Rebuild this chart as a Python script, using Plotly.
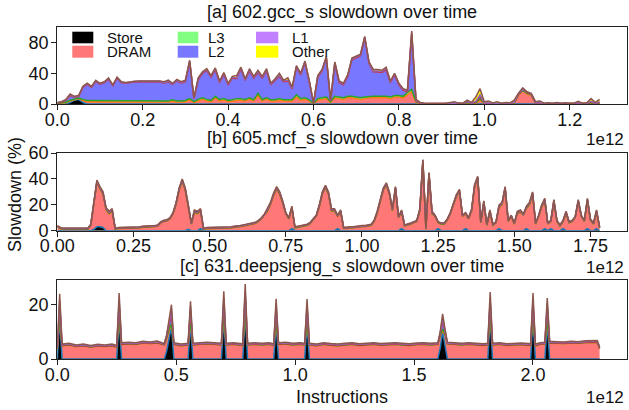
import plotly.graph_objects as go

# ---------------- data ----------------
LAYERS = ["Store", "DRAM", "L3", "L2", "L1", "Other"]

# panel [a] 602.gcc_s  (x in units of 1e12 instructions, sampled every 1e10)
x_a = [round(i * 0.01, 2) for i in range(128)]
a_store = [0, 0, 0, 2, 5, 6, 2, 0, 0, 0,
           0, 0, 0, 0, 0, 0, 0, 0, 0, 0,
           0, 0, 0, 0, 0, 0, 0, 0, 0, 0,
           0, 0, 0, 0, 0, 0, 0, 0, 0, 0,
           0, 0, 0, 0, 0, 0, 0, 0, 0, 0,
           0, 0, 0, 0, 0, 0, 0, 0, 0, 0,
           0, 0, 0, 0, 0, 0, 0, 0, 0, 0,
           0, 0, 0, 0, 0, 0, 0, 0, 0, 0,
           0, 0, 0, 0, 0, 0, 0, 0, 0, 0,
           0, 0, 0, 0, 0, 0, 0, 0, 0, 0,
           0, 0, 0, 0, 0, 0, 0, 0, 0, 0,
           0, 0, 0, 0, 0, 0, 0, 0, 0, 0,
           0, 0, 0, 0, 0, 0, 0, 0]
a_dram = [0.5, 0.8, 1.5, 2, 1, 1, 2.5, 3, 3, 3,
          2.5, 2.5, 3, 2.5, 3, 2.5, 2.5, 2.5, 2.5, 2.5,
          2.5, 2.5, 2.5, 2.5, 2.5, 2.5, 2.5, 3.5, 2.5, 2.5,
          3, 5, 2, 4, 6, 4, 3, 8, 4, 5,
          3, 4, 5, 5, 4, 6, 4, 11, 4, 6,
          4, 4, 5, 4, 4, 4, 9, 5, 6, 4,
          0.3, 5, 6, 7, 2, 8, 7, 6, 8, 8,
          7, 6, 7, 8, 8, 8, 8, 8, 7, 9,
          9, 8, 12, 16, 2, 0.5, 0.3, 0.2, 0.4, 0.2,
          0.2, 0.3, 0.5, 0.6, 0.3, 0.3, 1, 0.5, 1, 5,
          0.5, 0.8, 0.3, 0.5, 0.2, 0.4, 0.3, 1, 11, 17,
          13, 11, 0.8, 1, 0.2, 0.3, 0.2, 0.4, 0.2, 0.3,
          0.2, 0.2, 0.6, 0.2, 0.3, 1, 0.3, 1]
a_l3 = [0.3, 0.4, 0.8, 1, 0.8, 0.8, 1.5, 1.5, 1.5, 1.5,
        1.5, 1.5, 1.5, 1.5, 1.5, 1.5, 1.5, 1.5, 1.5, 1.5,
        1.5, 1.5, 1.5, 1.5, 1.5, 1.5, 1.5, 2, 1.5, 1.5,
        1.5, 2, 1, 2, 2, 2, 1.5, 2, 1.5, 2,
        1.5, 1.5, 2, 2, 1.5, 2, 1.5, 3, 1.5, 2,
        1.5, 1.5, 2, 1.5, 1.5, 1.5, 3, 2, 2, 1.5,
        0.2, 2, 2, 2, 1, 2, 2, 2, 2, 2,
        2, 2, 2, 2, 2, 2, 2, 2, 2, 2,
        2, 2, 3, 3, 1, 0.3, 0.1, 0.1, 0.2, 0.1,
        0.1, 0.1, 0.2, 0.3, 0.1, 0.1, 0.5, 0.2, 0.5, 2,
        0.3, 0.4, 0.1, 0.3, 0.1, 0.2, 0.1, 0.5, 1, 1,
        1, 1, 0.3, 0.3, 0.1, 0.1, 0.1, 0.2, 0.1, 0.1,
        0.1, 0.1, 0.3, 0.1, 0.1, 0.5, 0.1, 0.4]
a_l2 = [0.5, 1, 2.5, 6, 2, 2.2, 16, 21.5, 17.5, 25,
        22, 24, 27.5, 20, 29, 24, 23, 24, 25, 25,
        25, 25, 25, 25, 25, 23, 25, 20, 26, 23.5,
        24.5, 48, 4, 26, 32, 38, 30.5, 35, 22.5, 32,
        20.5, 28.5, 26, 39, 25.5, 35, 28.5, 27, 28.5, 35,
        19.5, 25.5, 29, 23.5, 24.5, 14.5, 36, 31, 46, 23.5,
        0.3, 28, 35, 51, 1, 43, 19, 17, 26, 48,
        51, 55, 77, 43, 32, 32, 31, 35, 19, 27,
        14, 8, 1, 72, 1, 0.3, 0.2, 0.2, 0.2, 0.2,
        0.2, 0.2, 0.2, 0.2, 0.2, 0.2, 1, 0.2, 1, 3,
        0.2, 0.2, 0.2, 0.2, 0.2, 0.2, 0.2, 0.5, 0.5, 1,
        1, 0.5, 0.2, 0.2, 0.2, 0.2, 0.2, 0.2, 0.2, 0.2,
        0.2, 0.2, 0.2, 0.2, 0.2, 1, 0.2, 0.5]
a_l1 = [0.3, 0.3, 0.5, 1, 0.5, 0.5, 0.5, 0.5, 0.5, 0.5,
        0.5, 0.5, 0.5, 0.5, 0.5, 0.5, 0.5, 0.5, 0.5, 0.5,
        0.5, 0.5, 0.5, 0.5, 0.5, 0.5, 0.5, 0.5, 0.5, 0.5,
        1, 1, 0.5, 1, 1, 1, 1, 1, 1, 1,
        1, 1, 1, 1, 1, 1, 1, 1, 1, 1,
        1, 1, 1, 1, 1, 1, 1, 1, 1, 1,
        0.1, 1, 1, 1, 0.5, 1, 1, 1, 1, 1,
        1, 1, 1, 1, 1, 1, 1, 2, 1, 1,
        1, 1, 1, 2, 0.5, 0.3, 0.2, 0.2, 0.2, 0.2,
        0.2, 0.2, 0.2, 0.2, 0.2, 0.2, 0.8, 0.2, 1, 2,
        0.2, 0.2, 0.2, 0.2, 0.2, 0.2, 0.2, 0.5, 0.5, 0.5,
        0.5, 0.5, 0.2, 0.2, 0.2, 0.2, 0.2, 0.2, 0.2, 0.2,
        0.2, 0.2, 0.5, 0.2, 0.2, 1, 0.2, 1]
a_other = [0.4, 0.5, 0.7, 1, 0.7, 0.5, 0.5, 0.5, 0.5, 1,
           0.5, 0.5, 1.5, 0.5, 1, 0.5, 0.5, 0.5, 0.5, 0.5,
           0.5, 0.5, 0.5, 0.5, 0.5, 1.5, 1.5, 1, 1.5, 1,
           1, 1, 0.5, 1, 1, 1, 1, 1, 1, 1,
           1, 1, 3, 1, 1, 2, 1, 2, 1, 2,
           1, 1, 3, 1, 3, 1, 1, 1, 1, 1,
           0.1, 1, 1, 1, 0.5, 1, 1, 1, 1, 1,
           1, 1, 1, 1, 2, 2, 2, 1, 1, 1,
           1, 1, 1, 2, 1.5, 0.6, 0.2, 0.1, 0.5, 0.1,
           0.1, 0.2, 0.9, 1.7, 0.2, 0.2, 1.7, 0.9, 5.5, 8,
           1.8, 2.4, 0.7, 1.8, 0.3, 1.0, 0.7, 2.5, 1, 1.5,
           0.5, 1, 1.5, 2.3, 0.3, 0.7, 0.3, 1.0, 0.3, 0.7,
           0.3, 0.3, 1.9, 0.3, 0.7, 3.5, 1.2, 3.1]

# panel [b] 605.mcf_s
x_b = [round(i * 0.01, 2) for i in range(179)]
b_store = [0, 0, 0, 0, 0, 0, 0, 0, 0, 0,
           0, 0, 1, 3, 3, 2.5, 0, 0, 0, 0,
           0, 0, 0, 0, 0, 0, 0, 0, 0, 0,
           0, 0, 0, 0, 0, 0, 0, 0, 0, 0,
           0, 0, 0, 1, 0, 0, 0, 1.5, 0, 0,
           0, 0, 0, 0, 0, 0, 0, 0, 0, 0,
           0, 0, 0, 0, 0, 0, 0, 0, 0, 0,
           0, 0, 0, 0, 0, 0, 0, 1.5, 0, 0,
           0, 0, 0, 0, 0, 0, 0, 0, 0, 0,
           0, 0, 1.5, 0, 0, 0, 0, 0, 0, 0,
           0, 0, 0, 0, 0, 0, 0, 0, 0, 0,
           0, 0, 0, 1.5, 0, 0, 0, 0, 0, 0,
           0, 0, 0, 0, 0, 1.5, 0, 0, 0, 0,
           0, 0, 0, 0, 1.5, 0, 0, 0, 0, 0,
           0, 0, 0, 0, 0, 1.5, 0, 0, 0, 0,
           0, 0, 0, 0, 1.5, 0, 0, 0, 0, 0,
           1.5, 0, 1.5, 0, 0, 0, 1.5, 0, 0, 0,
           0, 0, 0, 0, 1.5, 0, 0, 1.5, 0]
b_dram = [3, 1.5, 1, 1, 1, 1, 1, 1, 1, 1,
          1, 4, 19, 34, 29, 25.5, 16, 13, 15, 1,
          1.5, 1.5, 1.5, 2, 2, 2, 2, 2, 2.5, 2.5,
          2.5, 3, 3, 3.5, 6, 7, 7.5, 9, 13, 20,
          31, 38, 31, 17, 5, 14, 13, 13.5, 1, 1.5,
          1.5, 1.5, 1.5, 2, 2, 2, 2, 2, 2.5, 2.5,
          3, 3.5, 4, 4, 5, 5.5, 7, 9, 12, 15,
          20, 27, 32, 28, 21, 13, 9, 15.5, 2, 2.5,
          3, 3.5, 4, 5.5, 8, 11, 18, 28, 33, 28,
          15, 15, 9.5, 14, 1.5, 2, 2, 2, 2.5, 2.5,
          3, 3, 3.5, 4, 7, 13, 22, 31, 35, 28,
          15, 32, 10, 12.5, 3.5, 4, 5, 6, 7, 15,
          53, 1, 43, 13, 11, 4.5, 5, 5, 8, 13,
          20, 26, 30, 11, 11.5, 9, 15, 34, 40, 6,
          21, 4, 14, 4, 6, 16.5, 20, 32, 7, 11,
          5, 13, 14, 12, 15.5, 20, 28, 5, 11, 18,
          21.5, 5, 5.5, 22, 7, 3.5, 5.5, 13, 6, 7,
          10, 22, 11, 7, 21.5, 8, 5, 12.5, 2]
b_l3 = [0.2, 0.2, 0.2, 0.2, 0.2, 0.2, 0.2, 0.2, 0.2, 0.2,
        0.2, 0.2, 0.4, 0.4, 0.4, 0.4, 0.4, 0.4, 0.4, 0.2,
        0.2, 0.2, 0.2, 0.2, 0.2, 0.2, 0.2, 0.2, 0.2, 0.2,
        0.2, 0.2, 0.2, 0.2, 0.2, 0.2, 0.2, 0.2, 0.2, 0.4,
        0.4, 0.4, 0.4, 0.4, 0.2, 0.4, 0.4, 0.4, 0.2, 0.2,
        0.2, 0.2, 0.2, 0.2, 0.2, 0.2, 0.2, 0.2, 0.2, 0.2,
        0.2, 0.2, 0.2, 0.2, 0.2, 0.2, 0.2, 0.2, 0.2, 0.4,
        0.4, 0.4, 0.4, 0.4, 0.4, 0.2, 0.2, 0.4, 0.2, 0.2,
        0.2, 0.2, 0.2, 0.2, 0.2, 0.2, 0.4, 0.4, 0.4, 0.4,
        0.4, 0.4, 0.2, 0.4, 0.2, 0.2, 0.2, 0.2, 0.2, 0.2,
        0.2, 0.2, 0.2, 0.2, 0.2, 0.4, 0.4, 0.4, 0.4, 0.4,
        0.4, 0.4, 0.2, 0.4, 0.2, 0.2, 0.2, 0.2, 0.2, 0.4,
        0.4, 0.2, 0.4, 0.4, 0.2, 0.2, 0.2, 0.2, 0.2, 0.2,
        0.4, 0.4, 0.4, 0.2, 0.2, 0.2, 0.4, 0.4, 0.4, 0.2,
        0.4, 0.2, 0.4, 0.2, 0.2, 0.4, 0.4, 0.4, 0.2, 0.2,
        0.2, 0.4, 0.4, 0.2, 0.4, 0.4, 0.4, 0.2, 0.2, 0.4,
        0.4, 0.2, 0.2, 0.4, 0.2, 0.2, 0.2, 0.4, 0.2, 0.2,
        0.2, 0.4, 0.2, 0.2, 0.4, 0.2, 0.2, 0.4, 0.2]
b_l2 = [0.3, 0.3, 0.3, 0.3, 0.3, 0.3, 0.3, 0.3, 0.3, 0.3,
        0.3, 0.3, 0.6, 0.6, 0.6, 0.6, 0.6, 0.6, 0.6, 0.3,
        0.3, 0.3, 0.3, 0.3, 0.3, 0.3, 0.3, 0.3, 0.3, 0.3,
        0.3, 0.3, 0.3, 0.3, 0.3, 0.3, 0.3, 0.3, 0.3, 0.6,
        0.6, 0.6, 0.6, 0.6, 0.3, 0.6, 0.6, 0.6, 0.3, 0.3,
        0.3, 0.3, 0.3, 0.3, 0.3, 0.3, 0.3, 0.3, 0.3, 0.3,
        0.3, 0.3, 0.3, 0.3, 0.3, 0.3, 0.3, 0.3, 0.3, 0.6,
        0.6, 0.6, 0.6, 0.6, 0.6, 0.3, 0.3, 0.6, 0.3, 0.3,
        0.3, 0.3, 0.3, 0.3, 0.3, 0.3, 0.6, 0.6, 0.6, 0.6,
        0.6, 0.6, 0.3, 0.6, 0.3, 0.3, 0.3, 0.3, 0.3, 0.3,
        0.3, 0.3, 0.3, 0.3, 0.3, 0.6, 0.6, 0.6, 0.6, 0.6,
        0.6, 0.6, 0.3, 0.6, 0.3, 0.3, 0.3, 0.3, 0.3, 0.6,
        0.6, 0.3, 0.6, 0.6, 0.3, 0.3, 0.3, 0.3, 0.3, 0.3,
        0.6, 0.6, 0.6, 0.3, 0.3, 0.3, 0.6, 0.6, 0.6, 0.3,
        0.6, 0.3, 0.6, 0.3, 0.3, 0.6, 0.6, 0.6, 0.3, 0.3,
        0.3, 0.6, 0.6, 0.3, 0.6, 0.6, 0.6, 0.3, 0.3, 0.6,
        0.6, 0.3, 0.3, 0.6, 0.3, 0.3, 0.3, 0.6, 0.3, 0.3,
        0.3, 0.6, 0.3, 0.3, 0.6, 0.3, 0.3, 0.6, 0.3]
b_l1 = [0.2, 0.2, 0.2, 0.2, 0.2, 0.2, 0.2, 0.2, 0.2, 0.2,
        0.2, 0.2, 0.4, 0.4, 0.4, 0.4, 0.4, 0.4, 0.4, 0.2,
        0.2, 0.2, 0.2, 0.2, 0.2, 0.2, 0.2, 0.2, 0.2, 0.2,
        0.2, 0.2, 0.2, 0.2, 0.2, 0.2, 0.2, 0.2, 0.2, 0.4,
        0.4, 0.4, 0.4, 0.4, 0.2, 0.4, 0.4, 0.4, 0.2, 0.2,
        0.2, 0.2, 0.2, 0.2, 0.2, 0.2, 0.2, 0.2, 0.2, 0.2,
        0.2, 0.2, 0.2, 0.2, 0.2, 0.2, 0.2, 0.2, 0.2, 0.4,
        0.4, 0.4, 0.4, 0.4, 0.4, 0.2, 0.2, 0.4, 0.2, 0.2,
        0.2, 0.2, 0.2, 0.2, 0.2, 0.2, 0.4, 0.4, 0.4, 0.4,
        0.4, 0.4, 0.2, 0.4, 0.2, 0.2, 0.2, 0.2, 0.2, 0.2,
        0.2, 0.2, 0.2, 0.2, 0.2, 0.4, 0.4, 0.4, 0.4, 0.4,
        0.4, 0.4, 0.2, 0.4, 0.2, 0.2, 0.2, 0.2, 0.2, 0.4,
        0.4, 0.2, 0.4, 0.4, 0.2, 0.2, 0.2, 0.2, 0.2, 0.2,
        0.4, 0.4, 0.4, 0.2, 0.2, 0.2, 0.4, 0.4, 0.4, 0.2,
        0.4, 0.2, 0.4, 0.2, 0.2, 0.4, 0.4, 0.4, 0.2, 0.2,
        0.2, 0.4, 0.4, 0.2, 0.4, 0.4, 0.4, 0.2, 0.2, 0.4,
        0.4, 0.2, 0.2, 0.4, 0.2, 0.2, 0.2, 0.4, 0.2, 0.2,
        0.2, 0.4, 0.2, 0.2, 0.4, 0.2, 0.2, 0.4, 0.2]
b_other = [0.3, 0.3, 0.3, 0.3, 0.3, 0.3, 0.3, 0.3, 0.3, 0.3,
           0.3, 0.3, 0.6, 0.6, 0.6, 0.6, 0.6, 0.6, 0.6, 0.3,
           0.3, 0.3, 0.3, 0.3, 0.3, 0.3, 0.3, 0.3, 0.3, 0.3,
           0.3, 0.3, 0.3, 0.3, 0.3, 0.3, 0.3, 0.3, 0.3, 0.6,
           0.6, 0.6, 0.6, 0.6, 0.3, 0.6, 0.6, 0.6, 0.3, 0.3,
           0.3, 0.3, 0.3, 0.3, 0.3, 0.3, 0.3, 0.3, 0.3, 0.3,
           0.3, 0.3, 0.3, 0.3, 0.3, 0.3, 0.3, 0.3, 0.3, 0.6,
           0.6, 0.6, 0.6, 0.6, 0.6, 0.3, 0.3, 0.6, 0.3, 0.3,
           0.3, 0.3, 0.3, 0.3, 0.3, 0.3, 0.6, 0.6, 0.6, 0.6,
           0.6, 0.6, 0.3, 0.6, 0.3, 0.3, 0.3, 0.3, 0.3, 0.3,
           0.3, 0.3, 0.3, 0.3, 0.3, 0.6, 0.6, 0.6, 0.6, 0.6,
           0.6, 0.6, 0.3, 0.6, 0.3, 0.3, 0.3, 0.3, 0.3, 0.6,
           0.6, 0.3, 0.6, 0.6, 0.3, 0.3, 0.3, 0.3, 0.3, 0.3,
           0.6, 0.6, 0.6, 0.3, 0.3, 0.3, 0.6, 0.6, 0.6, 0.3,
           0.6, 0.3, 0.6, 0.3, 0.3, 0.6, 0.6, 0.6, 0.3, 0.3,
           0.3, 0.6, 0.6, 0.3, 0.6, 0.6, 0.6, 0.3, 0.3, 0.6,
           0.6, 0.3, 0.3, 0.6, 0.3, 0.3, 0.3, 0.6, 0.3, 0.3,
           0.3, 0.6, 0.3, 0.3, 0.6, 0.3, 0.3, 0.6, 0.3]

# panel [c] 631.deepsjeng_s
x_c = [0.00, 0.01, 0.02, 0.05, 0.08, 0.11, 0.14, 0.17, 0.20, 0.23,
       0.25, 0.26, 0.27, 0.30, 0.33, 0.36, 0.39, 0.42, 0.44, 0.45,
       0.46, 0.47, 0.48, 0.49, 0.52, 0.55, 0.56, 0.57, 0.60, 0.63,
       0.66, 0.69, 0.70, 0.71, 0.74, 0.78, 0.79, 0.80, 0.83, 0.86,
       0.89, 0.91, 0.92, 0.93, 0.96, 0.99, 1.02, 1.04, 1.05, 1.06,
       1.09, 1.12, 1.15, 1.18, 1.21, 1.24, 1.27, 1.30, 1.33, 1.36,
       1.39, 1.42, 1.45, 1.48, 1.51, 1.54, 1.57, 1.60, 1.61, 1.62,
       1.63, 1.64, 1.67, 1.70, 1.73, 1.76, 1.79, 1.81, 1.82, 1.83,
       1.86, 1.89, 1.92, 1.95, 1.98, 1.99, 2.00, 2.01, 2.03, 2.05,
       2.06, 2.07, 2.10, 2.13, 2.16, 2.19, 2.22, 2.25, 2.27, 2.28]
c_store = [0, 15, 0, 0, 0, 0, 0, 0, 0, 0,
           0, 15, 0, 0, 0, 0, 0, 0, 0, 0,
           3, 8, 12, 0, 0, 0, 13, 0, 0, 0,
           0, 0, 15, 0, 0, 0, 17, 0, 0, 0,
           0, 0, 13, 0, 0, 0, 0, 0, 13, 0,
           0, 0, 0, 0, 0, 0, 0, 0, 0, 0,
           0, 0, 0, 0, 0, 0, 0, 0, 4, 10,
           5, 0, 0, 0, 0, 0, 0, 0, 15, 0,
           0, 0, 0, 0, 0, 0, 15, 0, 0, 0,
           13, 0, 0, 0, 0, 0, 0, 0, 0, 0]
c_dram = [3.8, 0.5, 4.8, 5.1, 4.5, 4.8, 4.3, 4.7, 4.5, 4.8,
          4.3, 0.5, 5.3, 5.5, 5.3, 5.8, 5.6, 5.9, 5.3, 5.1,
          4.5, 2.5, 0.5, 5.3, 4.8, 5.1, 0.5, 5.1, 5.3, 5.5,
          5.3, 5.1, 0.5, 5.1, 5.3, 4.9, 0.5, 5.1, 5.3, 5.1,
          5.3, 4.9, 0.5, 5.3, 5.5, 5.1, 5.3, 5.1, 0.5, 5.1,
          4.8, 5.3, 5.0, 4.8, 5.1, 5.3, 4.9, 5.1, 5.3, 5.0,
          5.2, 5.3, 5.1, 4.9, 5.2, 5.3, 5.1, 5.3, 4.5, 0.5,
          4.0, 5.5, 5.3, 5.1, 5.3, 5.1, 4.9, 5.1, 0.5, 5.1,
          5.3, 4.9, 5.1, 5.2, 5.0, 4.9, 0.5, 4.8, 5.3, 5.5,
          0.5, 5.8, 5.7, 5.6, 5.8, 5.7, 6.0, 5.9, 6.1, 3.8]
c_l3 = [0.1, 0.5, 0.1, 0.1, 0.1, 0.1, 0.1, 0.1, 0.1, 0.1,
        0.1, 0.5, 0.1, 0.1, 0.1, 0.1, 0.1, 0.1, 0.1, 0.1,
        0.3, 0.5, 0.5, 0.1, 0.1, 0.1, 0.5, 0.1, 0.1, 0.1,
        0.1, 0.1, 0.5, 0.1, 0.1, 0.1, 0.5, 0.1, 0.1, 0.1,
        0.1, 0.1, 0.5, 0.1, 0.1, 0.1, 0.1, 0.1, 0.5, 0.1,
        0.1, 0.1, 0.1, 0.1, 0.1, 0.1, 0.1, 0.1, 0.1, 0.1,
        0.1, 0.1, 0.1, 0.1, 0.1, 0.1, 0.1, 0.1, 0.3, 0.5,
        0.3, 0.1, 0.1, 0.1, 0.1, 0.1, 0.1, 0.1, 0.5, 0.1,
        0.1, 0.1, 0.1, 0.1, 0.1, 0.1, 0.5, 0.1, 0.1, 0.1,
        0.5, 0.1, 0.1, 0.1, 0.1, 0.1, 0.1, 0.1, 0.1, 0.1]
c_l2 = [0.1, 4.0, 0.1, 0.1, 0.1, 0.1, 0.1, 0.1, 0.1, 0.1,
        0.1, 4.3, 0.1, 0.1, 0.1, 0.1, 0.1, 0.1, 0.1, 0.1,
        0.5, 1.5, 4.0, 0.1, 0.1, 0.1, 4.0, 0.1, 0.1, 0.1,
        0.1, 0.1, 5.0, 0.1, 0.1, 0.1, 5.6, 0.1, 0.1, 0.1,
        0.1, 0.1, 4.7, 0.1, 0.1, 0.1, 0.1, 0.1, 4.6, 0.1,
        0.1, 0.1, 0.1, 0.1, 0.1, 0.1, 0.1, 0.1, 0.1, 0.1,
        0.1, 0.1, 0.1, 0.1, 0.1, 0.1, 0.1, 0.1, 0.5, 3.1,
        0.8, 0.1, 0.1, 0.1, 0.1, 0.1, 0.1, 0.1, 4.7, 0.1,
        0.1, 0.1, 0.1, 0.1, 0.1, 0.1, 4.3, 0.1, 0.1, 0.1,
        5.0, 0.1, 0.1, 0.1, 0.1, 0.1, 0.1, 0.1, 0.1, 0.1]
c_l1 = [0.2, 1.5, 0.2, 0.2, 0.2, 0.2, 0.2, 0.2, 0.2, 0.2,
        0.2, 1.5, 0.2, 0.2, 0.2, 0.2, 0.2, 0.2, 0.2, 0.2,
        0.3, 0.5, 1.0, 0.2, 0.2, 0.2, 1.3, 0.2, 0.2, 0.2,
        0.2, 0.2, 1.5, 0.2, 0.2, 0.2, 1.5, 0.2, 0.2, 0.2,
        0.2, 0.2, 1.5, 0.2, 0.2, 0.2, 0.2, 0.2, 1.5, 0.2,
        0.2, 0.2, 0.2, 0.2, 0.2, 0.2, 0.2, 0.2, 0.2, 0.2,
        0.2, 0.2, 0.2, 0.2, 0.2, 0.2, 0.2, 0.2, 0.3, 1.0,
        0.4, 0.2, 0.2, 0.2, 0.2, 0.2, 0.2, 0.2, 1.5, 0.2,
        0.2, 0.2, 0.2, 0.2, 0.2, 0.2, 1.5, 0.2, 0.2, 0.2,
        1.5, 0.2, 0.2, 0.2, 0.2, 0.2, 0.2, 0.2, 0.2, 0.2]
c_other = [0.3, 2.5, 0.3, 0.3, 0.3, 0.3, 0.3, 0.3, 0.3, 0.3,
           0.3, 2.5, 0.3, 0.3, 0.3, 0.3, 0.3, 0.3, 0.3, 0.3,
           0.4, 1.0, 2.0, 0.3, 0.3, 0.3, 2.0, 0.3, 0.3, 0.3,
           0.3, 0.3, 2.5, 0.3, 0.3, 0.3, 2.5, 0.3, 0.3, 0.3,
           0.3, 0.3, 2.0, 0.3, 0.3, 0.3, 0.3, 0.3, 2.0, 0.3,
           0.3, 0.3, 0.3, 0.3, 0.3, 0.3, 0.3, 0.3, 0.3, 0.3,
           0.3, 0.3, 0.3, 0.3, 0.3, 0.3, 0.3, 0.3, 0.4, 1.5,
           0.5, 0.3, 0.3, 0.3, 0.3, 0.3, 0.3, 0.3, 2.5, 0.3,
           0.3, 0.3, 0.3, 0.3, 0.3, 0.3, 2.5, 0.3, 0.3, 0.3,
           2.0, 0.3, 0.3, 0.3, 0.3, 0.3, 0.3, 0.3, 0.3, 0.3]

titles = ["[a] 602.gcc_s slowdown over time",
          "[b] 605.mcf_s slowdown over time",
          "[c] 631.deepsjeng_s slowdown over time"]
xticks_a = [0.0, 0.2, 0.4, 0.6, 0.8, 1.0, 1.2]
xticks_b = [0.0, 0.25, 0.5, 0.75, 1.0, 1.25, 1.5, 1.75]
xticks_c = [0.0, 0.5, 1.0, 1.5, 2.0]
xlabels_a = ["0.0", "0.2", "0.4", "0.6", "0.8", "1.0", "1.2"]
xlabels_b = ["0.00", "0.25", "0.50", "0.75", "1.00", "1.25", "1.50", "1.75"]
xlabels_c = ["0.0", "0.5", "1.0", "1.5", "2.0"]
yticks_a = [0, 40, 80]
yticks_b = [0, 20, 40, 60]
yticks_c = [0, 20]

# ---------------- styling ----------------
W, H = 629, 410
FILL = ["#000000", "#ff7777", "#80ff80", "#7777ff", "#c080ff", "#ffff00"]
EDGE = ["#1f77b4", "#ff7f0e", "#2ca02c", "#d62728", "#9467bd", "#8c564b"]
FONT = "Liberation Sans, Arial, Helvetica, sans-serif"


def fx(p):
    return p / W


def fy(p):
    return 1 - p / H


X0, X1 = 57.3, 626.7
panel_px = [(26.5, 104.0), (153.0, 230.7), (280.3, 359.0)]
xranges = [[0, 1.3335], [0, 1.869], [0, 2.394]]
yranges = [[0, 101], [0, 60], [0, 29]]

fig = go.Figure()
data_sets = [
    (x_a, [a_store, a_dram, a_l3, a_l2, a_l1, a_other]),
    (x_b, [b_store, b_dram, b_l3, b_l2, b_l1, b_other]),
    (x_c, [c_store, c_dram, c_l3, c_l2, c_l1, c_other]),
]
for k, (xs, layers) in enumerate(data_sets):
    ax = "" if k == 0 else str(k + 1)
    for j, ys in enumerate(layers):
        fig.add_trace(go.Scatter(
            x=xs, y=ys, name=LAYERS[j], mode="lines", stackgroup="s" + str(k),
            fillcolor=FILL[j], line=dict(color=EDGE[j], width=1.5),
            xaxis="x" + ax, yaxis="y" + ax, showlegend=False, hoverinfo="skip"))

axis_common = dict(showline=True, mirror=True, linecolor="#222222", linewidth=1.3,
                   ticks="outside", ticklen=5, tickwidth=1.3, tickcolor="#222222",
                   showgrid=False, zeroline=False, automargin=False,
                   tickfont=dict(family=FONT, size=18, color="#111111"))
layout = dict(width=W, height=H, margin=dict(l=0, r=0, t=0, b=0, autoexpand=False),
              paper_bgcolor="white", plot_bgcolor="white", showlegend=False,
              font=dict(family=FONT, size=18, color="#111111"))
xt = [(xticks_a, xlabels_a), (xticks_b, xlabels_b), (xticks_c, xlabels_c)]
yt = [yticks_a, yticks_b, yticks_c]
for k in range(3):
    ax = "" if k == 0 else str(k + 1)
    top, bot = panel_px[k]
    layout["xaxis" + ax] = dict(axis_common, domain=[fx(X0), fx(X1)], anchor="y" + ax,
                                range=xranges[k], tickvals=xt[k][0], ticktext=xt[k][1],
                                ticklabelstandoff=-6)
    layout["yaxis" + ax] = dict(axis_common, domain=[fy(bot), fy(top)], anchor="x" + ax,
                                range=yranges[k], tickvals=yt[k], ticklabelstandoff=-1)
fig.update_layout(**layout)

ann = []
title_y = [12, 138, 266]
for k in range(3):
    ann.append(dict(text=titles[k], x=fx((X0 + X1) / 2), y=fy(title_y[k]), xref="paper",
                    yref="paper", showarrow=False, xanchor="center", yanchor="middle",
                    font=dict(family=FONT, size=18, color="#111111")))
for yy in [139, 267, 397]:
    ann.append(dict(text="1e12", x=fx(626), y=fy(yy), xref="paper", yref="paper",
                    showarrow=False, xanchor="right", yanchor="middle",
                    font=dict(family=FONT, size=17, color="#111111")))
ann.append(dict(text="Instructions", x=fx((X0 + X1) / 2), y=fy(397), xref="paper", yref="paper",
                showarrow=False, xanchor="center", yanchor="middle",
                font=dict(family=FONT, size=18, color="#111111")))
ann.append(dict(text="Slowdown (%)", x=fx(15), y=fy(195), xref="paper", yref="paper",
                showarrow=False, xanchor="center", yanchor="middle", textangle=-90,
                font=dict(family=FONT, size=18, color="#111111")))

# legend (drawn by hand, column-major like the original)
shapes = []
leg_cols = [(72.3, 93.3, 105), (177.7, 198.3, 206), (256, 278.3, 290)]
leg_rows = [(31.7, 43.3), (45.7, 57.7)]
for j, name in enumerate(LAYERS):
    c, r = j // 2, j % 2
    x0, x1, tx = leg_cols[c]
    y0, y1 = leg_rows[r]
    shapes.append(dict(type="rect", xref="paper", yref="paper", x0=fx(x0), x1=fx(x1),
                       y0=fy(y1), y1=fy(y0), fillcolor=FILL[j], line=dict(width=0)))
    ann.append(dict(text=name, x=fx(tx), y=fy((y0 + y1) / 2), xref="paper", yref="paper",
                    showarrow=False, xanchor="left", yanchor="middle",
                    font=dict(family=FONT, size=15, color="#111111")))
fig.update_layout(annotations=ann, shapes=shapes)

fig.write_html("out.html", config={"displayModeBar": False},
               post_script="document.body.style.margin='0';document.body.style.overflow='hidden';")
